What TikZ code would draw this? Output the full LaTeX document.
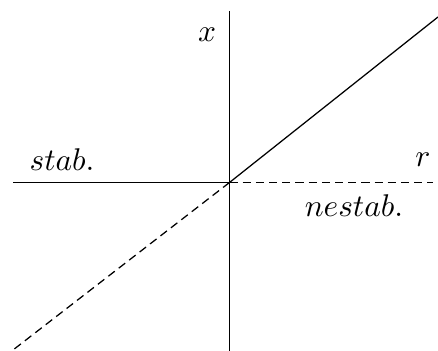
\documentclass[tikz,border=0pt]{standalone}
\usepackage{amsmath,amssymb}
\usepackage{tikz}
\usetikzlibrary{positioning}

\begin{document}
\begin{tikzpicture}[
  x=0.3185pt, y=-0.3185pt,
  axis/.style={line width=0.4pt, color=black},
  branch/.style={line width=0.4pt, color=black},
  unstable/.style={line width=0.4pt, color=black, dash pattern=on 2.6pt off 1.6pt},
  lbl/.style={inner sep=0pt, font=\normalsize}]
\useasboundingbox (0,0) rectangle (438,351);
% axes end points
\coordinate (O) at (229.5,182.5);
\coordinate (top) at (229.5,11);
\coordinate (bot) at (229.5,351);
\coordinate (left) at (13,182.5);
\coordinate (right) at (433,182.5);
\coordinate (ne) at (438,17);
\coordinate (sw) at (13,350);
% labels
\node[lbl] (xlab) at (207,35) {$x$};
\node[lbl] (rlab) at (423,160) {$r$};
\node[lbl] (stab) at (62,160) {$stab.$};
\node[lbl] (nestab) at (354,206) {$nestab.$};
% lines
\draw[axis] (top)--(bot);
\draw[axis] (left)--(O);
\draw[unstable] (O)--(right);
\draw[branch] (O)--(ne);
\draw[unstable] (O)--(sw);
\end{tikzpicture}
\end{document}
